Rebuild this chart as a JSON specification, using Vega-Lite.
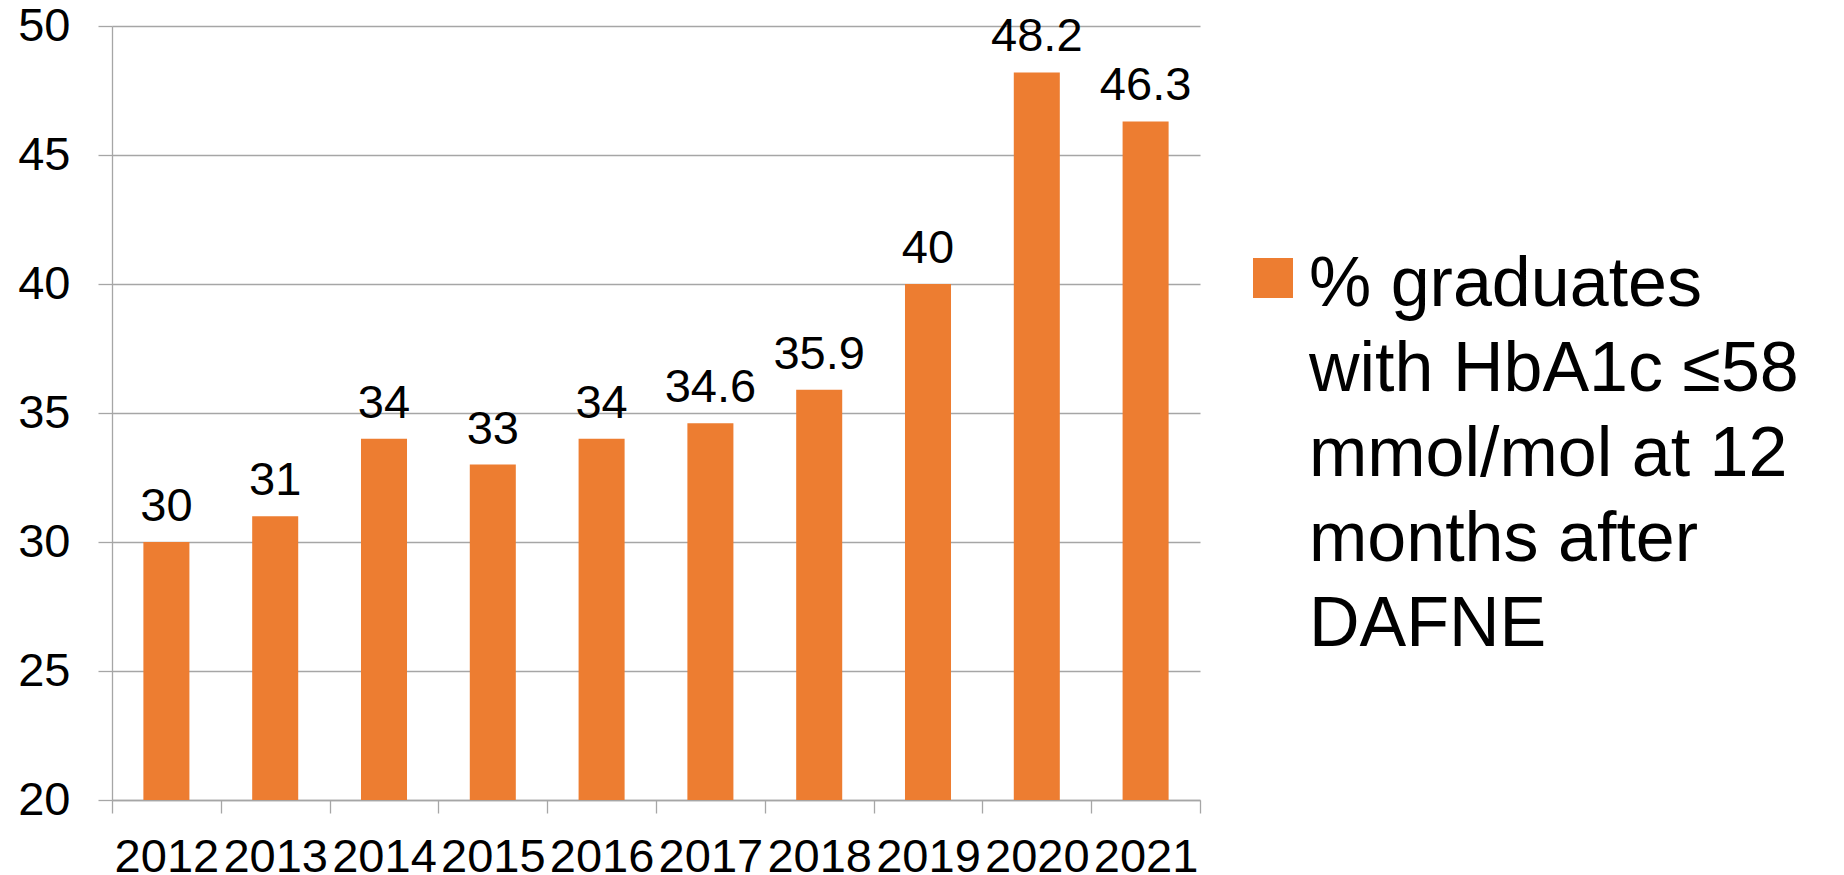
{
  "$schema": "https://vega.github.io/schema/vega-lite/v6.json",
  "width": 1088,
  "height": 774,
  "autosize": {"type": "none"},
  "padding": {"left": 112, "top": 26, "right": 644, "bottom": 75},
  "background": "white",
  "config": {
    "view": {"stroke": null},
    "font": "Liberation Sans",
    "axis": {
      "labelFont": "Liberation Sans",
      "labelColor": "black",
      "labelFontSize": 47,
      "gridColor": "#a6a6a6",
      "gridWidth": 1.3,
      "domainColor": "#a6a6a6",
      "domainWidth": 1.3,
      "tickColor": "#a6a6a6",
      "tickWidth": 1.3,
      "title": null
    }
  },
  "data": {
    "values": [
      {"year": "2012", "value": 30, "series": "% graduates with HbA1c ≤58 mmol/mol at 12 months after DAFNE"},
      {"year": "2013", "value": 31, "series": "% graduates with HbA1c ≤58 mmol/mol at 12 months after DAFNE"},
      {"year": "2014", "value": 34, "series": "% graduates with HbA1c ≤58 mmol/mol at 12 months after DAFNE"},
      {"year": "2015", "value": 33, "series": "% graduates with HbA1c ≤58 mmol/mol at 12 months after DAFNE"},
      {"year": "2016", "value": 34, "series": "% graduates with HbA1c ≤58 mmol/mol at 12 months after DAFNE"},
      {"year": "2017", "value": 34.6, "series": "% graduates with HbA1c ≤58 mmol/mol at 12 months after DAFNE"},
      {"year": "2018", "value": 35.9, "series": "% graduates with HbA1c ≤58 mmol/mol at 12 months after DAFNE"},
      {"year": "2019", "value": 40, "series": "% graduates with HbA1c ≤58 mmol/mol at 12 months after DAFNE"},
      {"year": "2020", "value": 48.2, "series": "% graduates with HbA1c ≤58 mmol/mol at 12 months after DAFNE"},
      {"year": "2021", "value": 46.3, "series": "% graduates with HbA1c ≤58 mmol/mol at 12 months after DAFNE"}
    ]
  },
  "encoding": {
    "x": {
      "field": "year",
      "type": "ordinal",
      "scale": {"paddingInner": 0, "paddingOuter": 0},
      "axis": {
        "labelAngle": 0,
        "tickBand": "extent",
        "tickSize": 13,
        "labelPadding": 21,
        "labelBaseline": "top",
        "grid": false
      }
    },
    "y": {
      "field": "value",
      "type": "quantitative",
      "scale": {"domain": [20, 50], "zero": false, "nice": false},
      "axis": {
        "values": [20, 25, 30, 35, 40, 45, 50],
        "tickSize": 14,
        "labelPadding": 28,
        "grid": true
      }
    }
  },
  "layer": [
    {
      "mark": {"type": "bar", "clip": true, "width": {"band": 0.423}},
      "encoding": {
        "color": {
          "field": "series",
          "type": "nominal",
          "scale": {"range": ["#ED7D31"]},
          "legend": {
            "title": null,
            "orient": "none",
            "legendX": 1126,
            "legendY": 217,
            "symbolType": "square",
            "symbolSize": 1600,
            "symbolStrokeWidth": 0,
            "labelFont": "Liberation Sans",
            "labelFontSize": 70,
            "labelColor": "black",
            "labelLimit": 1000,
            "labelOffset": 1,
            "labelBaseline": "top",
            "labelExpr": "['% graduates', 'with HbA1c ≤58', 'mmol/mol at 12', 'months after', 'DAFNE']",
            "encoding": {"labels": {"lineHeight": {"value": 85}, "dy": {"value": -27}}}
          }
        }
      }
    },
    {
      "mark": {"type": "text", "baseline": "alphabetic", "dy": -21, "fontSize": 47, "font": "Liberation Sans", "color": "black"},
      "encoding": {"text": {"field": "value", "type": "quantitative"}}
    }
  ]
}
